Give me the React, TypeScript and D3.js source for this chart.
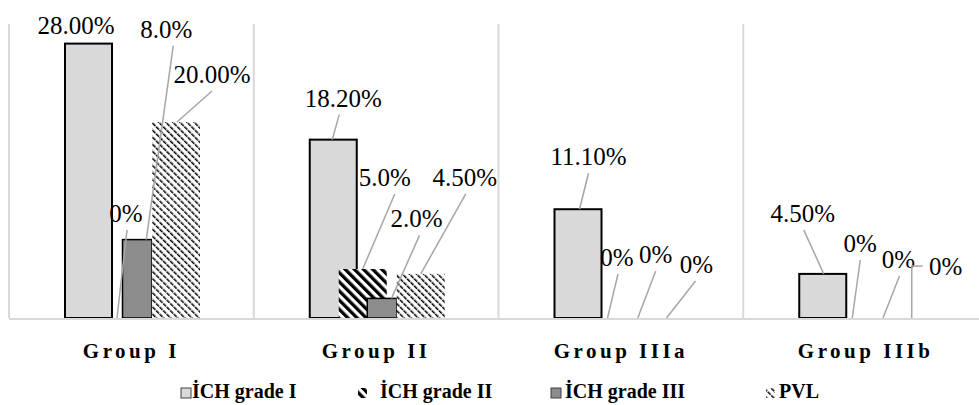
import React from "react";
import * as d3 from "d3";

// chart data
const groups = ["Group I", "Group II", "Group IIIa", "Group IIIb"];
const seriesNames = ["İCH grade I", "İCH grade II", "İCH grade III", "PVL"];
const gradeI = [28.0, 18.2, 11.1, 4.5];
const gradeII = [0, 5.0, 0, 0];
const gradeIII = [8.0, 2.0, 0, 0];
const pvl = [20.0, 4.5, 0, 0];
const gradeILabels = ["28.00%", "18.20%", "11.10%", "4.50%"];
const gradeIILabels = ["0%", "5.0%", "0%", "0%"];
const gradeIIILabels = ["8.0%", "2.0%", "0%", "0%"];
const pvlLabels = ["20.00%", "4.50%", "0%", "0%"];

const W = 979;
const H = 405;
const serif = '"Liberation Serif", "Times New Roman", Times, serif';

// slot layout inside a group (px offset from group start, bar width)
const slots = [
  { off: 56, w: 47, fill: "#d9d9d9", stroke: "#000", sw: 2 },
  { off: 85, w: 48, fill: "url(#pat-g2)", stroke: "none", sw: 0 },
  { off: 113.5, w: 29.5, fill: "#8c8c8c", stroke: "#000", sw: 1.5 },
  { off: 143, w: 48, fill: "url(#pat-pvl)", stroke: "none", sw: 0 },
];

// label placement relative to bar top centre: [dx, dy, leaderStartDx, leaderEndDx, elbow]
type LP = [number, number, number, number, boolean?];
const labelPos: LP[][] = [
  [[-12.5, -10, 0, 0], [8, -96, 1, -1], [29, -202, 7, 9], [36, -39, 0, 1]],
  [[10, -33, -4, -1], [22, -83, 10, 0], [34.5, -71, 3, 9.5], [44, -88, 1, 0]],
  [[10.5, -44, 0, 1.5], [9.5, -52, 1, 0], [29, -55, 0, 11], [31, -45, -1, 1]],
  [[-20, -52, 1, 1], [8, -66, 0, 0], [27, -50, 1, 11.5], [35.5, -43, 0, 1.5, true]],
];

const legendIcon = [181, 358, 551, 766];
const legendText = [192, 380, 565, 779];

export default function App() {
  const values = [gradeI, gradeII, gradeIII, pvl];
  const labels = [gradeILabels, gradeIILabels, gradeIIILabels, pvlLabels];

  const x = d3.scaleBand<string>().domain(groups).range([9, 988]);
  const y = d3.scaleLinear().domain([0, 30]).range([318, 24]);

  const bars: JSX.Element[] = [];
  const annos: JSX.Element[] = [];
  groups.forEach((g, gi) => {
    const x0 = x(g) as number;
    values.forEach((vals, si) => {
      const s = slots[si];
      const v = vals[gi];
      const bx = x0 + s.off;
      const cx = bx + s.w / 2;
      const top = y(v);
      if (v > 0) {
        bars.push(
          <rect key={`b${gi}-${si}`} x={bx} y={top} width={s.w} height={y(0) - top}
            fill={s.fill} stroke={s.stroke} strokeWidth={s.sw} />
        );
      }
      const [dx, dy, sdx, edx, elbow] = labelPos[gi][si];
      const lx = cx + dx;
      const ly = top + dy;
      const hasLeader = !(gi === 0 && si === 0);
      if (hasLeader) {
        if (elbow) {
          annos.push(
            <polyline key={`l${gi}-${si}`} fill="none" stroke="#a6a6a6" strokeWidth={1.5}
              points={`${cx + edx},${top} ${cx + edx},${ly - 9} ${lx - 23},${ly - 9}`} />
          );
        } else {
          annos.push(
            <line key={`l${gi}-${si}`} x1={lx + sdx} y1={ly + 8} x2={cx + edx} y2={top}
              stroke="#a6a6a6" strokeWidth={1.5} />
          );
        }
      }
      annos.push(
        <text key={`t${gi}-${si}`} x={lx} y={ly} textAnchor="middle"
          style={{ fontFamily: serif, fontSize: 25 }} fill="#000">{labels[si][gi]}</text>
      );
    });
  });

  return (
    <svg width={W} height={H} style={{ position: "absolute", left: 0, top: 0, background: "#fff" }}>
      <defs>
        <pattern id="pat-g2" patternUnits="userSpaceOnUse" width={6.5} height={6.5}
          patternTransform="rotate(-45)">
          <rect x={0} y={0} width={6.5} height={6.5} fill="#fff" />
          <rect x={0} y={0} width={3.3} height={6.5} fill="#000" />
        </pattern>
        <pattern id="pat-pvl" patternUnits="userSpaceOnUse" width={5} height={5}
          patternTransform="rotate(-45)">
          <rect x={0} y={0} width={5} height={5} fill="#fff" />
          <rect x={0} y={0} width={1.5} height={4.2} fill="#000" />
        </pattern>
      </defs>

      {/* vertical category separators */}
      {groups.map((g) => (
        <line key={`g${g}`} x1={x(g)} x2={x(g)} y1={y(30)} y2={y(0)} stroke="#d9d9d9" strokeWidth={2} />
      ))}

      {bars}
      <line x1={9} x2={W} y1={y(0) + 1} y2={y(0) + 1} stroke="#d9d9d9" strokeWidth={2} />
      {annos}

      {groups.map((g) => (
        <text key={`c${g}`} x={(x(g) as number) + x.bandwidth() / 2} y={358} textAnchor="middle"
          style={{ fontFamily: serif, fontWeight: "bold", fontSize: 21, letterSpacing: 3.5 }}>{g}</text>
      ))}

      {seriesNames.map((n, i) => (
        <g key={`lg${i}`}>
          {i === 0 || i === 2 ? (
            <rect x={legendIcon[i]} y={388} width={10} height={10} fill={slots[i].fill}
              stroke="#404040" strokeWidth={1} />
          ) : (
            <rect x={legendIcon[i]} y={388} width={9} height={10} fill={slots[i].fill} />
          )}
          <text x={legendText[i]} y={398}
            style={{ fontFamily: serif, fontWeight: "bold", fontSize: 20 }}>{n}</text>
        </g>
      ))}
    </svg>
  );
}
